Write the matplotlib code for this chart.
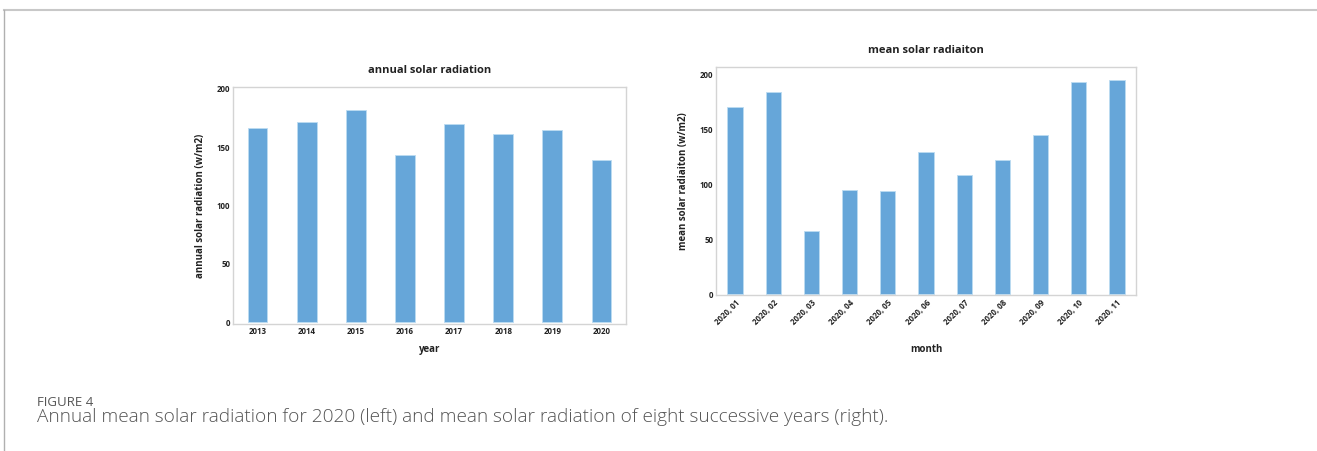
import matplotlib
matplotlib.use("Agg")
import matplotlib.pyplot as plt
from matplotlib.lines import Line2D

years = ["2013", "2014", "2015", "2016", "2017", "2018", "2019", "2020"]
annual_values = [166.7, 171.8, 181.8, 143.5, 170.0, 161.3, 165.0, 138.8]

months = ["2020, 01", "2020, 02", "2020, 03", "2020, 04", "2020, 05", "2020, 06",
          "2020, 07", "2020, 08", "2020, 09", "2020, 10", "2020, 11"]
monthly_values = [170.4, 184.1, 57.5, 95.0, 93.7, 129.3, 109.0, 122.0, 145.2, 193.2, 195.1]

plt.rcParams['font.family'] = ['Open Sans', 'DejaVu Sans']

W, H = 1317, 451
fig = plt.figure(figsize=(W / 100, H / 100), dpi=100)

bar_color = "#66a6d9"
spine_color = "#d4d4d4"
text_color = "#222222"


def ax_rect(l, t, r, b):
    return [l / W, 1 - b / H, (r - l) / W, (b - t) / H]


def style(ax):
    for s in ax.spines.values():
        s.set_color(spine_color)
        s.set_linewidth(1.0)
    ax.tick_params(length=0, pad=2, labelsize=5.7, labelcolor=text_color)
    for lab in ax.get_xticklabels() + ax.get_yticklabels():
        lab.set_fontweight('bold')


# Left chart
ax1 = fig.add_axes(ax_rect(233, 87, 626, 324))
ax1.bar(range(len(years)), annual_values, width=0.4, color=bar_color,
        edgecolor="#bcdcf2", linewidth=0.6)
ax1.set_xlim(-0.5, len(years) - 0.5)
ax1.set_ylim(-1.7, 201.7)
ax1.set_yticks([0, 50, 100, 150, 200])
ax1.set_xticks(range(len(years)))
ax1.set_xticklabels(years)
style(ax1)
ax1.set_title("annual solar radiation", fontsize=8, fontweight='bold',
              color=text_color, pad=10)
ax1.set_ylabel("annual solar radiation (w/m2)", fontsize=7, fontweight='bold',
               color=text_color, labelpad=8)
ax1.set_xlabel("year", fontsize=7, fontweight='bold', color=text_color, labelpad=6)

# Right chart
ax2 = fig.add_axes(ax_rect(716, 67, 1136, 295))
ax2.bar(range(len(months)), monthly_values, width=0.4, color=bar_color,
        edgecolor="#bcdcf2", linewidth=0.6)
ax2.set_xlim(-0.5, len(months) - 0.5)
ax2.set_ylim(-0.9, 207.2)
ax2.set_yticks([0, 50, 100, 150, 200])
ax2.set_xticks(range(len(months)))
ax2.set_xticklabels(months, rotation=45, ha='right', rotation_mode='anchor')
style(ax2)
ax2.set_title("mean solar radiaiton", fontsize=8, fontweight='bold',
              color=text_color, pad=10)
ax2.set_ylabel("mean solar radiaiton (w/m2)", fontsize=7, fontweight='bold',
               color=text_color, labelpad=8)
ax2.set_xlabel("month", fontsize=7, fontweight='bold', color=text_color, labelpad=13)

# Caption
fig.text(37 / W, 1 - 403 / H, "FIGURE 4", fontsize=9.5, color="#555555",
         va='center', ha='left')
fig.text(37 / W, 1 - 417 / H,
         "Annual mean solar radiation for 2020 (left) and mean solar radiation of eight successive years (right).",
         fontsize=13.7, fontweight='light', color="#555555", va='center', ha='left')

# Frame lines
fig.add_artist(Line2D([4 / W, 1], [1 - 10 / H, 1 - 10 / H], color="#c8c8c8",
                      linewidth=1.5, transform=fig.transFigure))
fig.add_artist(Line2D([4 / W, 4 / W], [1 - 10 / H, 0], color="#b0b0b0",
                      linewidth=1.0, transform=fig.transFigure))

fig.savefig("out.png", dpi=100)
